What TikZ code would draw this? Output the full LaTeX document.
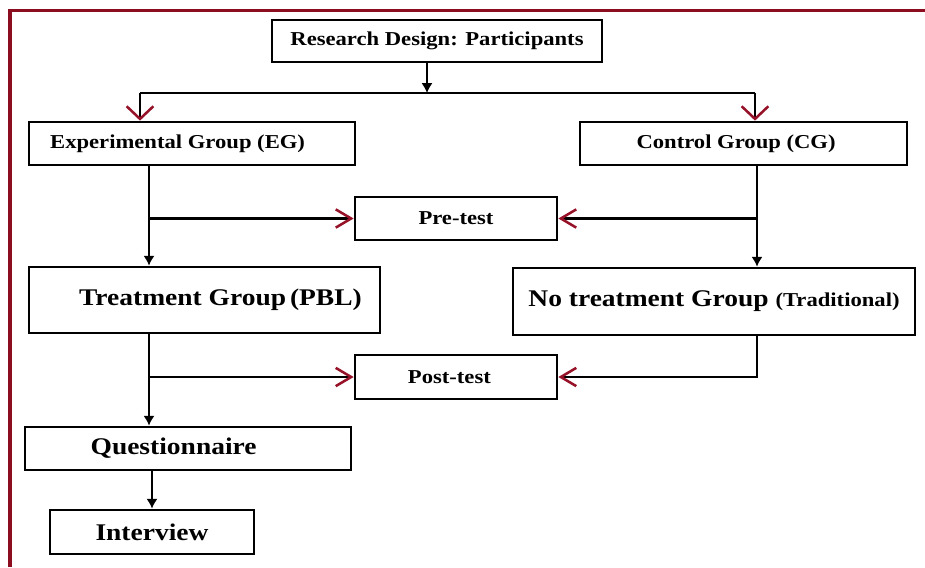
\documentclass[tikz,border=0pt]{standalone}
\usepackage{fontspec}
\setmainfont{Liberation Serif}[FakeStretch=1.15]
\usetikzlibrary{arrows.meta}
\definecolor{framered}{RGB}{140,12,32}
\definecolor{tipred}{RGB}{150,18,40}

\begin{document}
\begin{tikzpicture}[
    box/.style={draw, line width=1.9pt, inner xsep=0pt,
                font=\bfseries\fontsize{14}{16}\selectfont},
    bigbox/.style={box, font=\bfseries\fontsize{17}{20}\selectfont},
    link/.style={line width=1.5pt},
    blacktip/.tip={Latex[length=7pt, width=8pt]},
    redtop/.tip={Straight Barb[length=9pt, width=19pt, color=tipred, line width=1.8pt]},
    redside/.tip={Straight Barb[length=11pt, width=13pt, color=tipred, line width=1.8pt]}
]
\useasboundingbox (0,0) rectangle (23.125,-14.175);

% frame
\draw[framered, line width=2.2pt] (0.25,-14.175) |- (23.125,-0.2625);

% boxes
\node[box, minimum width=8.25cm, minimum height=1.05cm]
    (Research) at (10.925,-1.025) {Research Design: Participants};
\node[box, minimum width=8.15cm, minimum height=1.075cm]
    (EG) at ( 4.800,-3.5875) {Experimental Group (EG)\hspace*{0.72cm}};
\node[box, minimum width=8.175cm, minimum height=1.075cm]
    (CG) at (18.5875,-3.5875) {Control Group (CG)\hspace*{0.37cm}};
\node[box, minimum width=5.05cm, minimum height=1.075cm]
    (Pretest) at (11.400,-5.4625) {Pre-test};
\node[bigbox, minimum width=8.775cm, minimum height=1.65cm]
    (Treatment) at ( 5.1125,-7.500) {\hspace*{0.8cm}Treatment Group\,(PBL)};
\node[bigbox, minimum width=10.05cm, minimum height=1.675cm]
    (NoTreatment) at (17.850,-7.5375)
    {No treatment Group {\fontsize{14}{16}\selectfont(Traditional)}};
\node[box, minimum width=5.05cm, minimum height=1.1cm]
    (Posttest) at (11.400,-9.425) {Post-test\hspace*{0.33cm}};
\node[bigbox, minimum width=8.15cm, minimum height=1.075cm]
    (Questionnaire) at ( 4.700,-11.2125) {Questionnaire\hspace*{0.72cm}};
\node[bigbox, minimum width=5.1cm, minimum height=1.1cm]
    (Interview) at ( 3.800,-13.300) {Interview};

% split below the top box
\coordinate (split) at (10.675,-2.325);
\coordinate (egtop) at ( 3.500,-2.325);
\coordinate (cgtop) at (18.875,-2.325);
\coordinate (leftx)  at ( 3.725,0);
\coordinate (rightx) at (18.925,0);

\draw[link, -{blacktip}] (Research.south -| split) -- (split);
\draw[link] (egtop) -- (cgtop);
\draw[link, -{redtop}] (egtop) -- (egtop |- EG.north);
\draw[link, -{redtop}] (cgtop) -- (cgtop |- CG.north);

% left column
\draw[link, -{blacktip}] (EG.south -| leftx) -- (leftx |- Treatment.north);
\draw[link, -{redside}] (leftx |- Pretest.west) -- (Pretest.west);
\draw[link, -{blacktip}] (Treatment.south -| leftx) -- (leftx |- Questionnaire.north);
\draw[link, -{redside}] (leftx |- Posttest.west) -- (Posttest.west);
\draw[link, -{blacktip}] (Questionnaire.south -| Interview.north) -- (Interview.north);

% right column
\draw[link, -{blacktip}] (CG.south -| rightx) -- (rightx |- NoTreatment.north);
\draw[link, -{redside}] (rightx |- Pretest.east) -- (Pretest.east);
\draw[link, -{redside}] (NoTreatment.south -| rightx) |- (Posttest.east);
\end{tikzpicture}
\end{document}
